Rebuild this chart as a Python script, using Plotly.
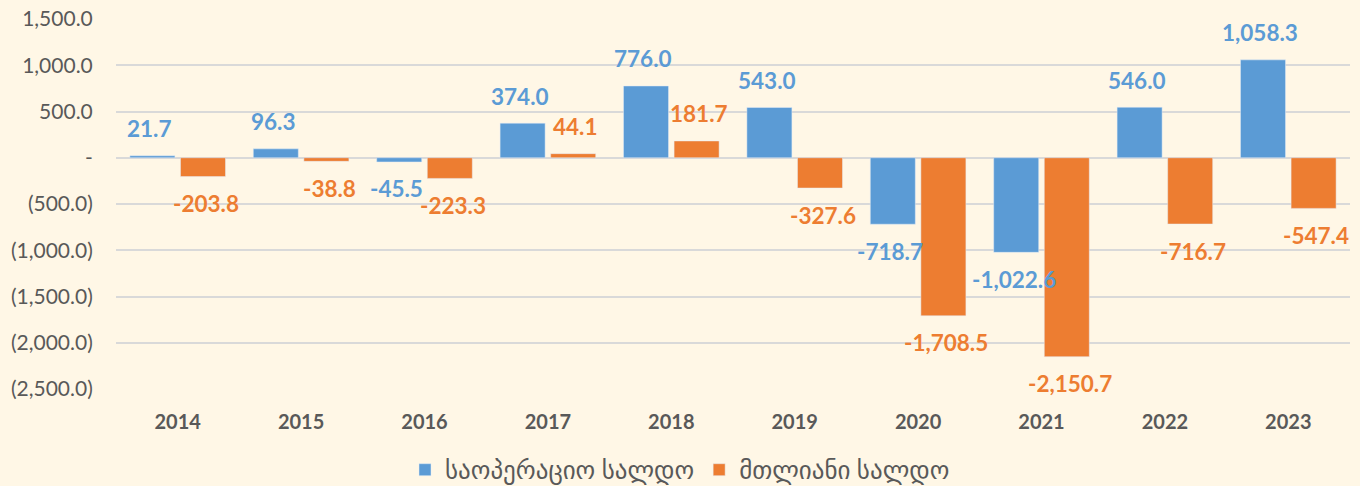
import plotly.graph_objects as go

years = ["2014", "2015", "2016", "2017", "2018", "2019", "2020", "2021", "2022", "2023"]
operational = [21.7, 96.3, -45.5, 374.0, 776.0, 543.0, -718.7, -1022.6, 546.0, 1058.3]
overall = [-203.8, -38.8, -223.3, 44.1, 181.7, -327.6, -1708.5, -2150.7, -716.7, -547.4]
series_names = ["საოპერაციო სალდო", "მთლიანი სალდო"]
tick_vals = [1500, 1000, 500, 0, -500, -1000, -1500, -2000, -2500]
tick_text = ["1,500.0", "1,000.0", "500.0", "-", "(500.0)", "(1,000.0)", "(1,500.0)", "(2,000.0)", "(2,500.0)"]

BLUE = "#5B9BD5"
ORANGE = "#ED7D31"
GRAY = "#595959"
FONT = "Lato, 'Noto Sans', 'DejaVu Sans', sans-serif"

fig = go.Figure()
fig.add_trace(go.Bar(x=years, y=operational, name=series_names[0], marker_color=BLUE))
fig.add_trace(go.Bar(x=years, y=overall, name=series_names[1], marker_color=ORANGE))


def fmt(v):
    s = f"{abs(v):,.1f}"
    return ("-" + s) if v < 0 else s


annotations = []
for vals, color, shift in [(operational, BLUE, -28), (overall, ORANGE, 28)]:
    for i, v in enumerate(vals):
        annotations.append(dict(
            x=i, y=v, xref="x", yref="y", text="<b>" + fmt(v) + "</b>", showarrow=False,
            xshift=shift, yshift=27 if v >= 0 else -27,
            font=dict(family=FONT, size=22.5, color=color),
        ))

fig.update_layout(
    width=1360, height=486,
    paper_bgcolor="#FFF7E6", plot_bgcolor="#FFF7E6",
    margin=dict(l=116, r=10, t=19, b=97, autoexpand=False),
    barmode="group", bargap=0.18, bargroupgap=0.11,
    font=dict(family=FONT, color=GRAY, size=21),
    annotations=annotations,
    showlegend=True,
    legend=dict(orientation="h", xref="container", yref="container",
                x=0.5, xanchor="center", y=0.033, yanchor="middle",
                font=dict(size=25, color=GRAY), itemclick=False, bgcolor="rgba(0,0,0,0)"),
)
fig.update_yaxes(range=[-2500, 1500], tickvals=tick_vals, ticktext=tick_text,
                 automargin=False,
                 showgrid=True, gridcolor="#D9D9D9", gridwidth=1.5,
                 zeroline=False, ticks="outside", ticklen=18, tickcolor="rgba(0,0,0,0)",
                 tickfont=dict(size=21, color=GRAY))
fig.update_xaxes(type="category", range=[-0.5, len(years) - 0.5], automargin=False,
                 showgrid=False, showline=False,
                 ticks="outside", ticklen=15, tickcolor="rgba(0,0,0,0)",
                 tickfont=dict(size=20, color=GRAY, weight="bold"))

fig.write_html("out.html", config={"displayModeBar": False},
               post_script="document.body.style.margin='0';")
